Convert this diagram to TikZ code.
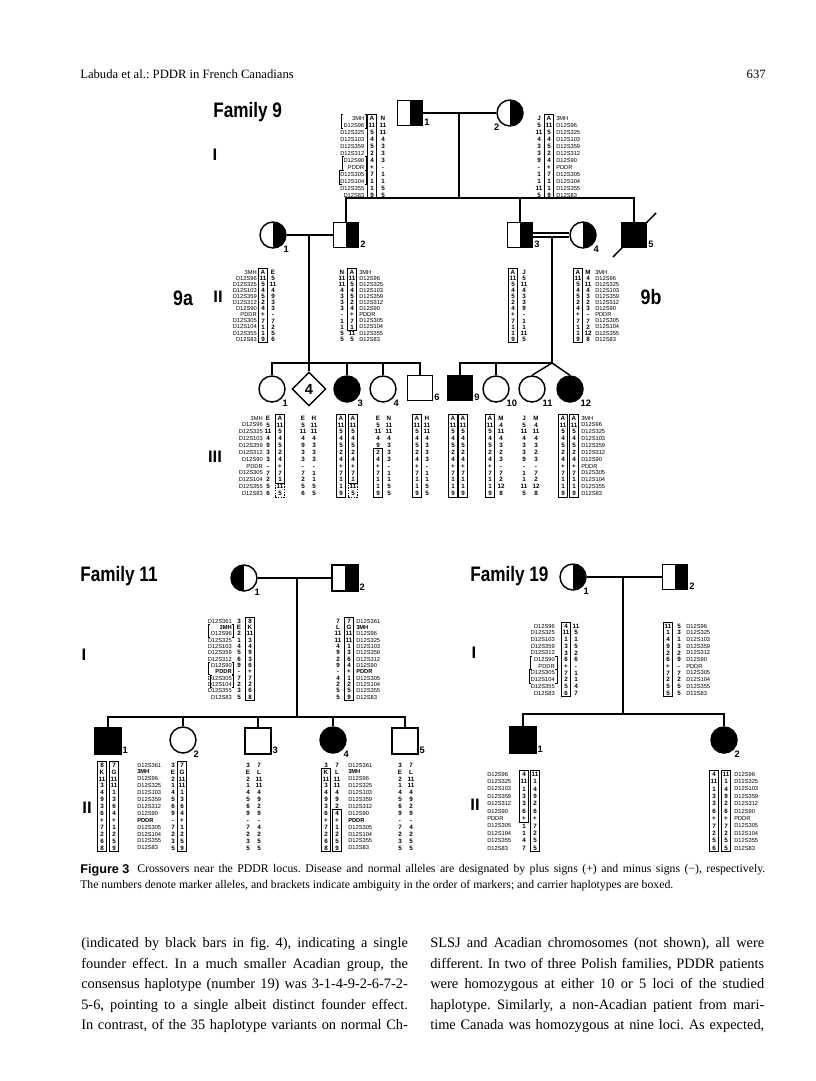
\documentclass[tikz,border=0pt]{standalone}
\usepackage{fontspec}
\setmainfont{Liberation Serif}
\setsansfont{Liberation Sans}
\usetikzlibrary{positioning,shapes.geometric,fit}
\frenchspacing

% marker orders
\newcommand{\lociA}{3MH,D12S96,D12S325,D12S103,D12S359,D12S312,D12S90,PDDR,D12S305,D12S104,D12S355,D12S83}
\newcommand{\lociB}{D12S361,\textbf{3MH},D12S96,D12S325,D12S103,D12S359,D12S312,D12S90,\textbf{PDDR},D12S305,D12S104,D12S355,D12S83}
\newcommand{\lociC}{D12S96,D12S325,D12S103,D12S359,D12S312,D12S90,PDDR,D12S305,D12S104,D12S355,D12S83}

% family 9 haplotypes
\newcommand{\hA}{A,11,5,4,5,2,4,+,7,1,1,9}
\newcommand{\hAp}{A,11,5,4,5,2,4,+,7,1,11,5}
\newcommand{\hE}{E,5,11,4,9,3,3,-,7,2,5,6}
\newcommand{\hN}{N,11,11,4,3,3,3,-,1,1,5,5}
\newcommand{\hJ}{J,5,11,4,3,3,9,-,1,1,11,5}
\newcommand{\hM}{M,4,11,4,3,2,3,-,7,2,12,8}

% column of alleles: name, x, first y, row step, list
\newcommand{\alcol}[5]{%
  \edef\alist{#5}%
  \foreach \alv [count=\rw from 0] in \alist
    \node[allele] (#1-\rw) at (#2,{#3+\rw*#4}) {\alv};}
% column of marker names: name, x, first y, row step, anchor, list
\newcommand{\mkcol}[6]{%
  \foreach \mk [count=\rw from 0] in #6
    \node[marker, anchor=#5] (#1-\rw) at (#2,{#3+\rw*#4}) {\mk};}
% brackets: x, top, bottom
\newcommand{\lbrk}[3]{\draw[brk] (#1+2,#2) -| (#1,#3) -- ++(2,0);}
\newcommand{\rbrk}[3]{\draw[brk] (#1-2,#2) -| (#1,#3) -- ++(-2,0);}

\begin{document}
\begin{tikzpicture}[
    x=0.75pt, y=-0.75pt,
    pedline/.style={line width=1.1pt},
    male/.style={draw, line width=1.1pt, minimum size=19pt, inner sep=0pt},
    female/.style={circle, draw, line width=1.1pt, minimum size=19.5pt, inner sep=0pt},
    sib/.style={diamond, draw, line width=1.1pt, minimum size=25.5pt, inner sep=0pt,
                font=\sffamily\bfseries\fontsize{11}{11}\selectfont},
    affected/.style={fill=black},
    halfR/.style={path picture={\fill (path picture bounding box.north)
                  rectangle (path picture bounding box.south east);}},
    halfL/.style={path picture={\fill (path picture bounding box.south west)
                  rectangle (path picture bounding box.north);}},
    numlab/.style={font=\sffamily\bfseries\fontsize{7}{7}\selectfont, inner sep=0.5pt},
    lab/.style={label={[numlab, anchor=south west]south east:#1}},
    clab/.style={label={[numlab, anchor=north west]-45:#1}},
    clabL/.style={label={[numlab, anchor=north east]-135:#1}},
    allele/.style={font=\sffamily\bfseries\fontsize{4.7}{4.7}\selectfont, inner sep=0pt,
                   minimum width=5.2pt, text height=3.4pt, text depth=0pt},
    marker/.style={font=\sffamily\fontsize{4.3}{4.3}\selectfont, inner sep=0pt,
                   text height=3.1pt, text depth=0pt},
    hapbox/.style={draw, line width=0.55pt, inner sep=0.75pt},
    dashbox/.style={hapbox, dash pattern=on 1pt off 1pt},
    brk/.style={line width=0.4pt},
    genlab/.style={font=\sffamily\bfseries\fontsize{12.5}{12.5}\selectfont, inner sep=0pt},
    famtitle/.style={font=\sffamily\bfseries\fontsize{15.7}{15.7}\selectfont, inner sep=0pt},
    runhead/.style={font=\fontsize{9.5}{11}\selectfont, inner sep=0pt},
    capfig/.style={font=\sffamily\bfseries\fontsize{9.5}{11}\selectfont, inner sep=0pt},
    captext/.style={font=\fontsize{8.8}{11}\selectfont, inner sep=0pt},
    bodytext/.style={font=\fontsize{10.8}{12}\selectfont, inner sep=0pt},
  ]
  \useasboundingbox[fill=white] (0,0) rectangle (816,1081);

  % ── Running head ──
  \node[runhead, anchor=west] (head) at (80,74) {Labuda et al.: PDDR in French Canadians};
  \node[runhead, anchor=east] (folio) at (766,74) {637};

  % ── Family 9 ──
  \node[famtitle, anchor=west] (f9title) at (213,112) {\scalebox{0.82}[1]{Family 9}};
  \node[genlab] (f9g1) at (215,155) {I};
  \node[genlab] (f9g2) at (218,297) {II};
  \node[genlab] (f9g3) at (215,457) {III};
  \node[famtitle] (f9a) at (183,298) {\scalebox{0.85}[1]{9a}};
  \node[famtitle] (f9b) at (651,297) {\scalebox{0.85}[1]{9b}};

  % generation I
  \node[male, halfR, lab=1] (f9i1) at (410,113) {};
  \node[female, halfR, clabL=2] (f9i2) at (510,113) {};
  \draw[pedline] (f9i1) -- (f9i2);
  \coordinate (f9d1) at (459,113);
  \coordinate (f9s1) at (459,198);
  \draw[pedline] (f9d1) -- (f9s1);

  \mkcol{f9i1m}{364.5}{118}{7}{east}{\lociA}
  \alcol{f9i1a}{372}{118}{7}{\hA}
  \alcol{f9i1b}{383}{118}{7}{\hN}
  \node[hapbox, fit=(f9i1a-0)(f9i1a-11)] (f9i1box) {};
  \lbrk{341}{114.5}{128.5} \rbrk{366.5}{114.5}{128.5}
  \lbrk{342}{156.5}{170.5} \rbrk{366.5}{156.5}{170.5}
  \lbrk{339.5}{170.5}{184.5} \rbrk{366.5}{170.5}{184.5}

  \alcol{f9i2b}{539}{118}{7}{\hJ}
  \alcol{f9i2a}{549}{118}{7}{\hA}
  \node[hapbox, fit=(f9i2a-0)(f9i2a-11)] (f9i2box) {};
  \mkcol{f9i2m}{556}{118}{7}{west}{\lociA}

  % generation II
  \node[female, halfR, clab=1] (f9ii1) at (273,235) {};
  \node[male, halfR, lab=2] (f9ii2) at (346,235) {};
  \node[male, halfR, lab=3] (f9ii3) at (520,235) {};
  \node[female, halfR, clab=4] (f9ii4) at (583,235) {};
  \node[male, affected, lab=5] (f9ii5) at (634,235) {};
  \draw[pedline] (f9ii2.north) |- (f9s1) -| (f9ii5.north);
  \draw[pedline] (f9ii3.north) -- (f9ii3.north |- f9s1);
  \draw[pedline] ([shift={(-21,22)}]f9ii5.center) -- ([shift={(22,-22)}]f9ii5.center);
  \coordinate (f9d2) at (309,235);
  \coordinate (f9s2) at (309,363);
  \coordinate (f9d3) at (552,235);
  \coordinate (f9s3) at (552,363);
  \draw[pedline] (f9d2) -- (f9s2);
  \draw[pedline] (f9d3) -- (f9s3);
  \draw[pedline] (f9ii1) -- (f9ii2);
  \draw[line width=0.9pt, double, double distance=2.2pt] (f9ii3) -- (f9ii4);

  \mkcol{f9ii1m}{257}{272}{6.1}{east}{\lociA}
  \alcol{f9ii1a}{263}{272}{6.1}{\hA}
  \alcol{f9ii1b}{273}{272}{6.1}{\hE}
  \node[hapbox, fit=(f9ii1a-0)(f9ii1a-11)] (f9ii1box) {};

  \alcol{f9ii2b}{342}{272}{6.1}{\hN}
  \alcol{f9ii2a}{352}{272}{6.1}{\hAp}
  \node[hapbox, fit=(f9ii2a-0)(f9ii2a-9)] (f9ii2box) {};
  \mkcol{f9ii2m}{359}{272}{6.1}{west}{\lociA}

  \alcol{f9ii3a}{513}{272}{6.1}{\hA}
  \alcol{f9ii3b}{524}{272}{6.1}{\hJ}
  \node[hapbox, fit=(f9ii3a-0)(f9ii3a-11)] (f9ii3box) {};

  \alcol{f9ii4a}{578}{272}{6.1}{\hA}
  \alcol{f9ii4b}{588}{272}{6.1}{\hM}
  \node[hapbox, fit=(f9ii4a-0)(f9ii4a-11)] (f9ii4box) {};
  \mkcol{f9ii4m}{595}{272}{6.1}{west}{\lociA}

  % generation III
  \node[female, clab=1] (f9iii1) at (272,389) {};
  \node[sib] (f9iii2) at (309,389) {4};
  \node[female, affected, clab=3] (f9iii3) at (347,389) {};
  \node[female, clab=4] (f9iii4) at (383,389) {};
  \node[male, lab=6] (f9iii6) at (420,388) {};
  \draw[pedline] (f9iii1.north) |- (f9s2) -| (f9iii6.north);
  \foreach \n in {f9iii2,f9iii3,f9iii4}
    \draw[pedline] (\n.north) -- (\n.north |- f9s2);

  \node[male, affected, lab=9] (f9iii9) at (460,388) {};
  \node[female, clab=10] (f9iii10) at (496,389) {};
  \node[female, clab=11] (f9iii11) at (532,389) {};
  \node[female, affected, clab=12] (f9iii12) at (570,389) {};
  \draw[pedline] (f9iii9.north) |- (f9s3);
  \draw[pedline] (f9iii10.north) -- (f9iii10.north |- f9s3);
  \draw[pedline] (f9s3) -- (f9iii11.north);
  \draw[pedline] (f9s3) -- (f9iii12.north);

  \mkcol{f9iii1m}{263}{418}{6.85}{east}{\lociA}
  \alcol{f9iii1b}{268}{418}{6.85}{\hE}
  \alcol{f9iii1a}{280}{418}{6.85}{\hAp}
  \node[hapbox, fit=(f9iii1a-0)(f9iii1a-9)] (f9iii1box) {};
  \node[dashbox, fit=(f9iii1a-10)(f9iii1a-11)] (f9iii1dbox) {};

  \alcol{f9iii2b}{303}{418}{6.85}{\hE}
  \alcol{f9iii2c}{314}{418}{6.85}{H,11,11,4,3,3,3,-,1,1,5,5}

  \alcol{f9iii3a}{341}{418}{6.85}{\hA}
  \alcol{f9iii3b}{353}{418}{6.85}{\hAp}
  \node[hapbox, fit=(f9iii3a-0)(f9iii3a-11)] (f9iii3box) {};
  \node[hapbox, fit=(f9iii3b-0)(f9iii3b-9)] (f9iii3box2) {};
  \node[dashbox, fit=(f9iii3b-10)(f9iii3b-11)] (f9iii3dbox) {};

  \alcol{f9iii4b}{378}{418}{6.85}{E,5,11,4,9,2,4,+,7,1,1,9}
  \alcol{f9iii4c}{389}{418}{6.85}{\hN}
  \node[hapbox, fit=(f9iii4b-5)(f9iii4b-11)] (f9iii4box) {};

  \alcol{f9iii6a}{417}{418}{6.85}{\hA}
  \alcol{f9iii6b}{427}{418}{6.85}{H,11,11,4,3,3,3,-,1,1,5,5}
  \node[hapbox, fit=(f9iii6a-0)(f9iii6a-11)] (f9iii6box) {};

  \alcol{f9iii9a}{453}{418}{6.85}{\hA}
  \alcol{f9iii9b}{463}{418}{6.85}{\hA}
  \node[hapbox, fit=(f9iii9a-0)(f9iii9a-11)] (f9iii9box) {};
  \node[hapbox, fit=(f9iii9b-0)(f9iii9b-11)] (f9iii9box2) {};

  \alcol{f9iii10a}{490}{418}{6.85}{\hA}
  \alcol{f9iii10b}{501}{418}{6.85}{\hM}
  \node[hapbox, fit=(f9iii10a-0)(f9iii10a-11)] (f9iii10box) {};

  \alcol{f9iii11a}{524}{418}{6.85}{\hJ}
  \alcol{f9iii11b}{536}{418}{6.85}{\hM}

  \alcol{f9iii12a}{563}{418}{6.85}{\hA}
  \alcol{f9iii12b}{574}{418}{6.85}{\hA}
  \node[hapbox, fit=(f9iii12a-0)(f9iii12a-11)] (f9iii12box) {};
  \node[hapbox, fit=(f9iii12b-0)(f9iii12b-11)] (f9iii12box2) {};
  \mkcol{f9iii12m}{581}{418}{6.85}{west}{\lociA}

  % ── Family 11 ──
  \node[famtitle, anchor=west] (f11title) at (80,576) {\scalebox{0.82}[1]{Family 11}};
  \node[genlab] (f11g1) at (84,655) {I};
  \node[genlab] (f11g2) at (87,808) {II};

  \node[female, halfL, clab=1] (f11i1) at (244,578) {};
  \node[male, minimum size=19.5pt, halfR, lab=2] (f11i2) at (345,578) {};
  \draw[pedline] (f11i1) -- (f11i2);
  \coordinate (f11d) at (297,578);
  \coordinate (f11s) at (297,717);
  \draw[pedline] (f11d) -- (f11s);

  \mkcol{f11i1m}{232}{621}{6.33}{east}{\lociB}
  \alcol{f11i1a}{239}{621}{6.33}{3,E,2,1,4,5,6,9,-,7,2,3,5}
  \alcol{f11i1b}{250}{621}{6.33}{8,K,11,3,4,9,3,6,+,7,2,6,8}
  \node[hapbox, fit=(f11i1b-0)(f11i1b-12)] (f11i1box) {};
  \lbrk{208}{624}{637} \rbrk{233.5}{624}{637}
  \lbrk{208}{662}{674.6} \rbrk{233.5}{662}{674.6}
  \lbrk{210}{675}{687.5} \rbrk{233.5}{675}{687.5}

  \alcol{f11i2b}{338}{621}{6.33}{7,L,11,11,4,9,2,9,-,4,2,5,5}
  \alcol{f11i2a}{349}{621}{6.33}{7,G,11,11,1,3,6,4,+,1,2,5,9}
  \node[hapbox, fit=(f11i2a-0)(f11i2a-12)] (f11i2box) {};
  \mkcol{f11i2m}{356}{621}{6.33}{west}{\lociB}

  \node[male, minimum size=19.5pt, affected, lab=1] (f11ii1) at (108,741) {};
  \node[female, clab=2] (f11ii2) at (183,740) {};
  \node[male, minimum size=19.5pt, lab=3] (f11ii3) at (258,741) {};
  \node[female, affected, clab=4] (f11ii4) at (333,740) {};
  \node[male, minimum size=19.5pt, lab=5] (f11ii5) at (405,741) {};
  \draw[pedline] (f11ii1.north) |- (f11s) -| (f11ii5.north);
  \foreach \n in {f11ii2,f11ii3,f11ii4}
    \draw[pedline] (\n.north) -- (\n.north |- f11s);

  \alcol{f11ii1a}{102}{765}{6.9}{8,K,11,3,4,9,3,6,+,7,2,6,8}
  \alcol{f11ii1b}{114}{765}{6.9}{7,G,11,11,1,3,6,4,+,1,2,5,9}
  \node[hapbox, fit=(f11ii1a-0)(f11ii1a-12)] (f11ii1box) {};
  \node[hapbox, fit=(f11ii1b-0)(f11ii1b-12)] (f11ii1box2) {};

  \mkcol{f11ii2m}{137}{765}{6.9}{west}{\lociB}
  \alcol{f11ii2a}{173}{765}{6.9}{3,E,2,1,4,5,6,9,-,7,2,3,5}
  \alcol{f11ii2b}{182}{765}{6.9}{7,G,11,11,1,3,6,4,+,1,2,5,9}
  \node[hapbox, fit=(f11ii2b-0)(f11ii2b-12)] (f11ii2box) {};

  \alcol{f11ii3a}{248}{765}{6.9}{3,E,2,1,4,5,6,9,-,7,2,3,5}
  \alcol{f11ii3b}{259}{765}{6.9}{7,L,11,11,4,9,2,9,-,4,2,5,5}

  \alcol{f11ii4a}{326}{765}{6.9}{3,K,11,3,4,9,3,6,+,7,2,6,8}
  \alcol{f11ii4b}{337}{765}{6.9}{7,L,11,11,4,9,2,4,+,1,2,5,9}
  \node[hapbox, fit=(f11ii4a-1)(f11ii4a-12)] (f11ii4box) {};
  \node[hapbox, fit=(f11ii4b-7)(f11ii4b-12)] (f11ii4box2) {};
  \mkcol{f11ii4m}{348}{765}{6.9}{west}{\lociB}

  \alcol{f11ii5a}{400}{765}{6.9}{3,E,2,1,4,5,6,9,-,7,2,3,5}
  \alcol{f11ii5b}{411}{765}{6.9}{7,L,11,11,4,9,2,9,-,4,2,5,5}

  % ── Family 19 ──
  \node[famtitle, anchor=west] (f19title) at (470,576) {\scalebox{0.82}[1]{Family 19}};
  \node[genlab] (f19g1) at (474,653) {I};
  \node[genlab] (f19g2) at (475,805) {II};

  \node[female, halfR, clab=1] (f19i1) at (573,577) {};
  \node[male, halfR, lab=2] (f19i2) at (675,577) {};
  \draw[pedline] (f19i1) -- (f19i2);
  \coordinate (f19d) at (623,577);
  \coordinate (f19s) at (623,714);
  \draw[pedline] (f19d) -- (f19s);

  \mkcol{f19i1m}{555}{626}{6.7}{east}{\lociC}
  \alcol{f19i1a}{566}{626}{6.7}{4,11,1,3,3,6,+,7,2,5,6}
  \alcol{f19i1b}{576}{626}{6.7}{11,5,1,5,2,6,-,1,1,4,7}
  \node[hapbox, fit=(f19i1a-0)(f19i1a-10)] (f19i1box) {};
  \lbrk{530}{656.2}{669.5} \rbrk{557}{656.2}{669.5}
  \lbrk{529}{669.6}{682.9} \rbrk{557}{669.6}{682.9}

  \alcol{f19i2a}{668}{626}{6.7}{11,1,4,9,2,6,+,7,2,5,5}
  \alcol{f19i2b}{679}{626}{6.7}{5,3,1,3,2,9,-,7,2,5,5}
  \node[hapbox, fit=(f19i2a-0)(f19i2a-10)] (f19i2box) {};
  \mkcol{f19i2m}{686}{626}{6.7}{west}{\lociC}

  \node[male, minimum size=19.5pt, affected, lab=1] (f19ii1) at (523,740) {};
  \node[female, affected, clab=2] (f19ii2) at (724,740) {};
  \draw[pedline] (f19ii1.north) |- (f19s) -| (f19ii2.north);

  \mkcol{f19ii1m}{487}{774}{7.4}{west}{\lociC}
  \alcol{f19ii1a}{524}{774}{7.4}{4,11,1,3,3,6,+,1,1,4,7}
  \alcol{f19ii1b}{535}{774}{7.4}{11,1,4,9,2,6,+,7,2,5,5}
  \node[hapbox, fit=(f19ii1a-0)(f19ii1a-6)] (f19ii1box) {};
  \node[hapbox, fit=(f19ii1b-0)(f19ii1b-10)] (f19ii1box2) {};

  \alcol{f19ii2a}{714}{774}{7.4}{4,11,1,3,3,6,+,7,2,5,6}
  \alcol{f19ii2b}{726}{774}{7.4}{11,1,4,9,2,6,+,7,2,5,5}
  \node[hapbox, fit=(f19ii2a-0)(f19ii2a-10)] (f19ii2box) {};
  \node[hapbox, fit=(f19ii2b-0)(f19ii2b-10)] (f19ii2box2) {};
  \mkcol{f19ii2m}{734}{774}{7.4}{west}{\lociC}

  % ── Caption ──
  \node[capfig, anchor=west] (figlab) at (80,870) {Figure 3};
  \node[captext, anchor=west] (cap1) at (137,870)
    {\makebox[471pt][s]{Crossovers near the PDDR locus. Disease and normal alleles are designated by plus signs (+) and minus signs (−), respectively.}};
  \node[captext, anchor=west] (cap2) at (80,886)
    {The numbers denote marker alleles, and brackets indicate ambiguity in the order of markers; and carrier haplotypes are boxed.};

  % ── Body text ──
  \node[bodytext, anchor=west] (l1) at (81,944)
    {\makebox[245pt][s]{(indicated by black bars in fig. 4), indicating a single}};
  \node[bodytext, anchor=west] (l2) at (81,964.5)
    {\makebox[245pt][s]{founder effect. In a much smaller Acadian group, the}};
  \node[bodytext, anchor=west] (l3) at (81,985)
    {\makebox[245pt][s]{consensus haplotype (number 19) was 3-1-4-9-2-6-7-2-}};
  \node[bodytext, anchor=west] (l4) at (81,1005.5)
    {\makebox[245pt][s]{5-6, pointing to a single albeit distinct founder effect.}};
  \node[bodytext, anchor=west] (l5) at (81,1026)
    {\makebox[245pt][s]{In contrast, of the 35 haplotype variants on normal Ch-}};
  \node[bodytext, anchor=west] (r1) at (430,944)
    {\makebox[250.5pt][s]{SLSJ and Acadian chromosomes (not shown), all were}};
  \node[bodytext, anchor=west] (r2) at (430,964.5)
    {\makebox[250.5pt][s]{different. In two of three Polish families, PDDR patients}};
  \node[bodytext, anchor=west] (r3) at (430,985)
    {\makebox[250.5pt][s]{were homozygous at either 10 or 5 loci of the studied}};
  \node[bodytext, anchor=west] (r4) at (430,1005.5)
    {\makebox[250.5pt][s]{haplotype. Similarly, a non-Acadian patient from mari-}};
  \node[bodytext, anchor=west] (r5) at (430,1026)
    {\makebox[250.5pt][s]{time Canada was homozygous at nine loci. As expected,}};

\end{tikzpicture}
\end{document}
